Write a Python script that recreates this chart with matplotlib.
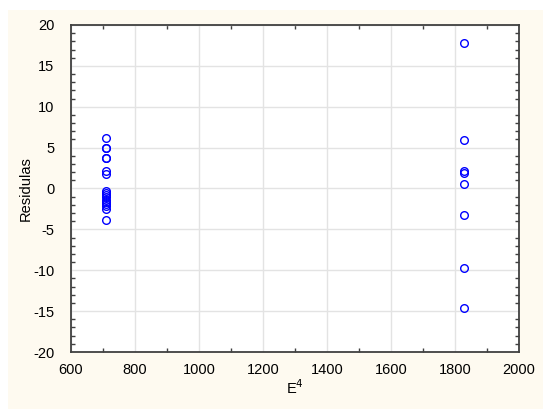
import matplotlib
matplotlib.use("Agg")
import matplotlib.pyplot as plt
import matplotlib.patches as mpatches
from matplotlib.ticker import MultipleLocator

# ── Data ──────────────────────────────────────────────────────────────────────
x_low = 708
x_high = 1827
res_low = [6.2, 5.0, 5.0, 3.7, 3.7, 2.2, 1.8, -0.3, -0.5, -0.8, -1.1,
           -1.4, -1.6, -1.9, -2.2, -2.5, -3.8]
res_high = [17.8, 5.9, 2.2, 1.9, 0.5, -3.2, -9.7, -14.6]

xticks = [600, 800, 1000, 1200, 1400, 1600, 1800, 2000]
yticks = [-20, -15, -10, -5, 0, 5, 10, 15, 20]

# ── Style ─────────────────────────────────────────────────────────────────────
CREAM = "#fefaf0"
SPINE = "#404040"
GRID = "#e3e3e3"
BLUE = "#0000ff"

plt.rcParams["font.family"] = ["Liberation Sans", "DejaVu Sans"]
plt.rcParams["axes.unicode_minus"] = False

fig = plt.figure(figsize=(5.5, 4.19), dpi=100, facecolor="white")
bg = mpatches.Rectangle(
    (8 / 550, 1 - 409 / 419), 535 / 550, 399 / 419,
    transform=fig.transFigure, facecolor=CREAM, edgecolor="none", zorder=-10)
fig.add_artist(bg)

ax = fig.add_axes([71 / 550, 1 - 352 / 419, 448 / 550, 327 / 419])
ax.set_facecolor("white")

xs = [x_low] * len(res_low) + [x_high] * len(res_high)
ys = res_low + res_high
ax.plot(xs, ys, linestyle="none", marker="o", markersize=5.5,
        markerfacecolor="none", markeredgecolor=BLUE, markeredgewidth=1.0,
        zorder=3)

ax.set_xlim(600, 2000)
ax.set_ylim(-20, 20)
ax.set_xticks(xticks)
ax.set_yticks(yticks)
ax.xaxis.set_minor_locator(MultipleLocator(100))
ax.yaxis.set_minor_locator(MultipleLocator(1))

ax.grid(True, which="major", color=GRID, linewidth=1.0, zorder=0)
ax.set_axisbelow(True)

ax.tick_params(which="both", direction="in", top=True, right=True,
               colors=SPINE, labelcolor="black", labelsize=10.5)
ax.tick_params(which="major", length=0, pad=12)
ax.tick_params(which="minor", length=3, width=1.0)
ax.tick_params(axis="x", which="major", pad=8)

for spine in ax.spines.values():
    spine.set_color(SPINE)
    spine.set_linewidth(1.3)

ax.set_xlabel("E$^4$", fontsize=10.5, labelpad=1)
ax.set_ylabel("Residulas", fontsize=10.5, labelpad=0)

fig.savefig("out.png", dpi=100, facecolor="white")
